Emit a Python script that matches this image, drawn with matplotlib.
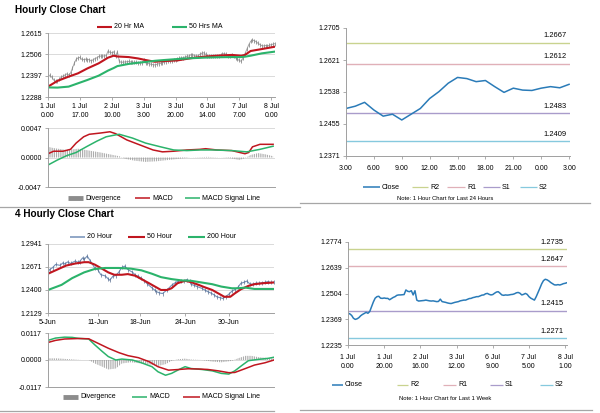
import matplotlib
matplotlib.use('Agg')
import matplotlib.pyplot as plt
from matplotlib.lines import Line2D
import matplotlib.transforms as mtransforms

plt.rcParams['font.family'] = ['Liberation Sans', 'DejaVu Sans']
plt.rcParams['hatch.linewidth'] = 0.6

# ---------------- DATA ----------------
# Hourly close, 1 Jul 0.00 -> 8 Jul ~1.00 (index = trading hour)
hourly_close = [
    1.2401, 1.2398, 1.2390, 1.2375, 1.2369, 1.2372, 1.2378, 1.2388, 1.2395, 1.2400,
    1.2406, 1.2401, 1.2410, 1.2435, 1.2460, 1.2480, 1.2488, 1.2490, 1.2480, 1.2479,
    1.2481, 1.2479, 1.2479, 1.2472, 1.2478, 1.2484, 1.2488, 1.2495, 1.2497, 1.2497,
    1.2498, 1.2499, 1.2523, 1.2516, 1.2514, 1.2519, 1.2497, 1.2519, 1.2470, 1.2465,
    1.2466, 1.2467, 1.2468, 1.2470, 1.2468, 1.2466, 1.2465, 1.2466, 1.2464, 1.2462,
    1.2463, 1.2475, 1.2462, 1.2460, 1.2458, 1.2455, 1.2453, 1.2452, 1.2455, 1.2458,
    1.2460, 1.2462, 1.2466, 1.2468, 1.2470, 1.2470, 1.2474, 1.2478, 1.2479, 1.2483,
    1.2485, 1.2488, 1.2488, 1.2492, 1.2496, 1.2497, 1.2503, 1.2505, 1.2500, 1.2497,
    1.2499, 1.2506, 1.2512, 1.2514, 1.2506, 1.2497, 1.2495, 1.2497, 1.2496, 1.2497,
    1.2499, 1.2500, 1.2503, 1.2508, 1.2510, 1.2506, 1.2497, 1.2500, 1.2505, 1.2500,
    1.2488, 1.2480, 1.2475, 1.2470, 1.2488, 1.2510, 1.2532, 1.2555, 1.2572, 1.2579,
    1.2576, 1.2570, 1.2562, 1.2556, 1.2550, 1.2549, 1.2551, 1.2549, 1.2552, 1.2556,
    1.2558, 1.2561]
hourly_idx = list(range(len(hourly_close)))

ma_idx = [0, 5, 11, 16, 21, 27, 32, 35, 37, 43, 48, 52, 57, 62, 69, 76, 83, 90, 98, 103, 105, 108, 114, 121]
ma20_hr = [1.2341, 1.2370, 1.2392, 1.2409, 1.2434, 1.2460, 1.2489, 1.2499, 1.2495, 1.2492, 1.2485, 1.2477,
           1.2468, 1.2472, 1.2475, 1.2486, 1.2494, 1.2499, 1.2503, 1.2499, 1.2503, 1.2523, 1.2533, 1.2545]
ma50_hr = [1.2337, 1.2336, 1.2341, 1.2358, 1.2375, 1.2397, 1.2423, 1.2436, 1.2446, 1.2457, 1.2463, 1.2467,
           1.2473, 1.2477, 1.2482, 1.2486, 1.2489, 1.2491, 1.2492, 1.2492, 1.2494, 1.2499, 1.2511, 1.2520]

hr_xticks = [0, 17, 34, 51, 68, 85, 102, 119]
hr_xlabels = ['1 Jul\n0.00', '1 Jul\n17.00', '2 Jul\n10.00', '3 Jul\n3.00', '3 Jul\n20.00',
              '6 Jul\n14.00', '7 Jul\n7.00', '8 Jul\n0.00']
hr_yticks = [1.2288, 1.2397, 1.2506, 1.2615]

macd_hr_idx = [0, 3, 8, 12, 15, 19, 22, 28, 33, 36, 42, 49, 56, 61, 67, 74, 81, 84, 90, 98, 105, 107, 109, 113, 120]
macd_hr = [0.0006, 0.0010, 0.0010, 0.0013, 0.0023, 0.0033, 0.0037, 0.0039, 0.0041, 0.0038, 0.0028, 0.0020,
           0.0012, 0.0009, 0.0010, 0.0012, 0.0013, 0.0014, 0.0012, 0.0011, 0.0006, 0.0008, 0.0017, 0.0021, 0.0021]
sig_hr_idx = [0, 5, 10, 15, 21, 26, 31, 36, 38, 45, 52, 60, 67, 74, 81, 88, 98, 106, 113, 120]
sig_hr = [-0.0012, -0.0004, 0.0003, 0.0008, 0.0018, 0.0026, 0.0033, 0.0036, 0.0037, 0.0031, 0.0023, 0.0017,
          0.0012, 0.0011, 0.0012, 0.0012, 0.0011, 0.0009, 0.0013, 0.0018]
div_hr_idx = [0, 3, 10, 16, 22, 28, 33, 38, 41, 46, 52, 58, 64, 70, 76, 85, 92, 97, 102, 105, 108, 112, 116, 120]
div_hr = [0.0017, 0.0015, 0.0012, 0.0014, 0.0011, 0.0008, 0.0005, 0.0002, -0.0002, -0.0005, -0.0007, -0.0006,
          -0.0004, -0.0002, 0.0000, 0.0001, 0.0000, -0.0001, -0.0004, -0.0001, 0.0004, 0.0007, 0.0005, 0.0002]
macd_hr_yticks = [-0.0047, 0.0, 0.0047]

# Last 24 hours
day_close = [1.2495, 1.2501, 1.2511, 1.2491, 1.2475, 1.2480, 1.2465, 1.2480, 1.2495, 1.2521, 1.2539, 1.2561,
             1.2576, 1.2573, 1.2565, 1.2568, 1.2552, 1.2537, 1.2548, 1.2543, 1.2542, 1.2548, 1.2552, 1.2549, 1.2558]
day_xlabels = ['3.00', '6.00', '9.00', '12.00', '15.00', '18.00', '21.00', '0.00', '3.00']
day_yticks = [1.2371, 1.2455, 1.2538, 1.2621, 1.2705]
day_levels = {'R2': 1.2667, 'R1': 1.2612, 'S1': 1.2483, 'S2': 1.2409}

# Last week
week_xticks = [0, 20, 40, 60, 80, 100, 120]
week_xlabels = ['1 Jul\n0.00', '1 Jul\n20.00', '2 Jul\n16.00', '3 Jul\n12.00', '6 Jul\n9.00', '7 Jul\n5.00', '8 Jul\n1.00']
week_yticks = [1.2235, 1.2369, 1.2504, 1.2639, 1.2774]
week_levels = {'R2': 1.2735, 'R1': 1.2647, 'S1': 1.2415, 'S2': 1.2271}

# 4-hourly
h4_idx = [0, 1, 3, 5, 8, 10, 11, 13, 15, 18, 20, 21, 23, 24, 26, 28, 31, 33, 35, 38, 40, 41, 43, 45, 47, 49,
          51, 53, 56, 58, 60, 62, 64, 66, 69, 71, 72, 74, 76, 79, 82, 84, 86, 88, 90, 92, 94, 95, 97, 99, 102,
          104, 106, 108, 110, 112, 114, 116, 118, 120, 122, 124, 126, 128, 130, 132, 134, 136, 138, 140, 142,
          144, 146, 148, 150]
h4_close = [1.2599, 1.2640, 1.2662, 1.2700, 1.2690, 1.2720, 1.2705, 1.2730, 1.2712, 1.2740, 1.2725, 1.2735,
            1.2778, 1.2760, 1.2799, 1.2745, 1.2660, 1.2640, 1.2580, 1.2565, 1.2530, 1.2515, 1.2560, 1.2570,
            1.2610, 1.2665, 1.2680, 1.2640, 1.2610, 1.2575, 1.2560, 1.2538, 1.2510, 1.2470, 1.2425, 1.2395,
            1.2380, 1.2365, 1.2358, 1.2400, 1.2455, 1.2480, 1.2502, 1.2510, 1.2500, 1.2522, 1.2505, 1.2465,
            1.2455, 1.2440, 1.2420, 1.2400, 1.2380, 1.2365, 1.2345, 1.2320, 1.2310, 1.2300, 1.2322, 1.2350,
            1.2385, 1.2405, 1.2430, 1.2478, 1.2490, 1.2505, 1.2470, 1.2468, 1.2480, 1.2478, 1.2485, 1.2490,
            1.2498, 1.2488, 1.2492]
h4_ma50_idx = [0, 5, 12, 18, 24, 27, 31, 35, 40, 44, 49, 53, 58, 62, 67, 71, 75, 79, 82, 86, 91, 95, 100, 104,
               109, 113, 117, 121, 124, 128, 133, 137, 143, 150]
h4_ma50 = [1.2591, 1.2631, 1.2687, 1.2711, 1.2727, 1.2727, 1.2699, 1.2659, 1.2607, 1.2579, 1.2579, 1.2587,
           1.2567, 1.2528, 1.2480, 1.2440, 1.2400, 1.2400, 1.2420, 1.2480, 1.2508, 1.2492, 1.2460, 1.2432,
           1.2400, 1.2360, 1.2320, 1.2320, 1.2360, 1.2408, 1.2448, 1.2468, 1.2480, 1.2488]
h4_ma200_idx = [0, 9, 16, 24, 31, 38, 47, 55, 62, 69, 75, 82, 89, 95, 102, 109, 115, 122, 126, 131, 137, 150]
h4_ma200 = [1.2400, 1.2460, 1.2539, 1.2607, 1.2647, 1.2659, 1.2659, 1.2651, 1.2631, 1.2591, 1.2551, 1.2528,
            1.2512, 1.2508, 1.2488, 1.2468, 1.2440, 1.2420, 1.2420, 1.2428, 1.2412, 1.2412]
h4_xticks = [0, 33, 61, 91, 120]
h4_xlabels = ['5-Jun', '11-Jun', '18-Jun', '24-Jun', '30-Jun']
h4_yticks = [1.2129, 1.2400, 1.2671, 1.2941]

macd_h4_idx = [0, 5, 11, 16, 20, 27, 31, 36, 40, 45, 49, 56, 62, 69, 73, 78, 82, 87, 91, 95, 102, 109, 115,
               120, 124, 129, 133, 140, 146, 150]
macd_h4 = [0.0085, 0.0095, 0.0099, 0.0098, 0.0094, 0.0091, 0.0066, 0.0037, 0.0015, 0.0000, 0.0004, 0.0000,
           -0.0012, -0.0029, -0.0051, -0.0066, -0.0058, -0.0041, -0.0029, -0.0037, -0.0041, -0.0047, -0.0058,
           -0.0061, -0.0047, -0.0022, -0.0003, 0.0003, 0.0007, 0.0012]
sig_h4_idx = [0, 5, 11, 20, 27, 33, 40, 47, 53, 60, 67, 73, 80, 87, 93, 100, 106, 113, 120, 124, 131, 137, 144, 150]
sig_h4 = [0.0076, 0.0085, 0.0091, 0.0093, 0.0092, 0.0073, 0.0051, 0.0032, 0.0019, 0.0010, -0.0007, -0.0029,
          -0.0044, -0.0041, -0.0038, -0.0039, -0.0041, -0.0047, -0.0055, -0.0054, -0.0037, -0.0022, -0.0012, 0.0000]
div_h4_idx = [0, 6, 13, 22, 27, 31, 36, 40, 45, 49, 55, 62, 66, 73, 78, 82, 86, 91, 95, 102, 109, 115, 122,
              126, 131, 135, 140, 144, 150]
div_h4 = [0.0007, 0.0007, 0.0004, 0.0000, 0.0000, -0.0015, -0.0029, -0.0041, -0.0037, -0.0015, -0.0010, -0.0015,
          -0.0018, -0.0026, -0.0018, -0.0004, 0.0003, 0.0006, 0.0002, 0.0000, -0.0007, -0.0010, -0.0004, 0.0007,
          0.0018, 0.0018, 0.0012, 0.0010, 0.0006]
macd_h4_yticks = [-0.0117, 0.0, 0.0117]

# ---------------- STYLE ----------------
RED = '#c0161f'
GREEN = '#2bb36b'
BLUE = '#2a7bb8'
PRICE_GREY = '#a8a8a8'
PRICE_BLUE = '#7390b8'
DIVG = '#8c8c8c'
SPINE = '#a0a0a0'
GRID = '#d4d4d4'
LEVEL_COLORS = {'R2': '#c9d38f', 'R1': '#e0b0b8', 'S1': '#a99ccb', 'S2': '#86c9de'}
FS = 5

W, H = 600, 413
fig = plt.figure(figsize=(6, 4.13), dpi=100)


def ax_at(l, t, r, b):
    return fig.add_axes([l / W, 1 - b / H, (r - l) / W, (b - t) / H])


def style(ax, grid=True):
    for s in ['top', 'right']:
        ax.spines[s].set_visible(False)
    for s in ['left', 'bottom']:
        ax.spines[s].set_color(SPINE)
        ax.spines[s].set_linewidth(0.7)
    ax.tick_params(axis='both', labelsize=FS, length=2.5, width=0.6, color=SPINE, pad=2)
    if grid:
        ax.yaxis.grid(True, color=GRID, lw=0.6)
        ax.set_axisbelow(True)


def set_yt(ax, ticks):
    ax.set_yticks(ticks)
    ax.set_yticklabels(['{:.4f}'.format(t) for t in ticks])
    ax.set_ylim(ticks[0], ticks[-1])


def legend_row(y, items):
    for x0, x1, label, color, lw in items:
        fig.add_artist(Line2D([x0 / W, x1 / W], [1 - y / H, 1 - y / H], transform=fig.transFigure,
                              color=color, lw=lw, solid_capstyle='butt'))
        fig.text((x1 + 2) / W, 1 - y / H, label, fontsize=FS, va='center', ha='left')


def level_lines(ax, levels):
    for name, v in levels.items():
        ax.axhline(v, color=LEVEL_COLORS[name], lw=1.0)
        ax.annotate('{:.4f}'.format(v), xy=(0.985, v),
                    xycoords=mtransforms.blended_transform_factory(ax.transAxes, ax.transData),
                    xytext=(0, 5), textcoords='offset points', ha='right', va='center', fontsize=5.4)


# Titles
fig.text(15 / W, 1 - 10 / H, 'Hourly Close Chart', fontsize=7.2, fontweight='bold', va='center')
fig.text(15 / W, 1 - 214 / H, '4 Hourly Close Chart', fontsize=7.2, fontweight='bold', va='center')

# Separators
for x0, x1, y in [(0, 300, 207), (300, 590, 203), (0, 274, 411), (300, 592, 410)]:
    fig.add_artist(Line2D([x0 / W, x1 / W], [1 - y / H, 1 - y / H], transform=fig.transFigure,
                          color='#a6a6a6', lw=0.9))

# ---- A: hourly close with MAs
axA = ax_at(48, 33, 275, 97)
style(axA)
axA.plot(hourly_idx, hourly_close, color=PRICE_GREY, lw=0.7, marker='|', ms=2.6, mew=0.6, mec='#8a8a8a')
axA.plot(ma_idx, ma20_hr, color=RED, lw=1.5)
axA.plot(ma_idx, ma50_hr, color=GREEN, lw=1.5)
axA.set_xlim(0, 121)
set_yt(axA, hr_yticks)
axA.set_xticks(hr_xticks)
axA.set_xticklabels(hr_xlabels, linespacing=1.35)
legend_row(27, [(97, 112, '20 Hr MA', RED, 1.5), (172, 187, '50 Hrs MA', GREEN, 1.5)])

# ---- B: hourly MACD
axB = ax_at(48, 128, 275, 187)
style(axB)
axB.fill_between(div_hr_idx, 0, div_hr, facecolor='none', edgecolor='#9c9c9c', hatch='|' * 9, linewidth=0)
axB.plot(macd_hr_idx, macd_hr, color=RED, lw=1.1)
axB.plot(sig_hr_idx, sig_hr, color=GREEN, lw=1.1)
axB.set_xlim(0, 121)
set_yt(axB, macd_hr_yticks)
axB.set_xticks([])
legend_row(198, [(68, 83, 'Divergence', DIVG, 3.5), (135, 150, 'MACD', RED, 1.1),
                 (185, 200, 'MACD Signal Line', GREEN, 1.1)])

# ---- C: last 24 hours
axC = ax_at(346, 28, 570, 156)
style(axC, grid=False)
level_lines(axC, day_levels)
axC.plot(range(len(day_close)), day_close, color=BLUE, lw=1.1)
axC.set_xlim(0, 24.1)
set_yt(axC, day_yticks)
axC.set_xticks(range(0, 25, 3))
axC.set_xticklabels(day_xlabels)
axC.tick_params(axis='x', pad=4)
legend_row(187, [(363, 380, 'Close', BLUE, 1.1), (412, 428, 'R2', LEVEL_COLORS['R2'], 0.9),
                 (447, 465, 'R1', LEVEL_COLORS['R1'], 0.9), (483, 500, 'S1', LEVEL_COLORS['S1'], 0.9),
                 (520, 537, 'S2', LEVEL_COLORS['S2'], 0.9)])
fig.text(445 / W, 1 - 198 / H, 'Note: 1 Hour Chart for Last 24 Hours', fontsize=4.2, ha='center', va='center')

# ---- D: 4 hourly close
axD = ax_at(48, 244, 274, 313)
style(axD)
axD.plot(h4_idx, h4_close, color=PRICE_BLUE, lw=0.8, marker='|', ms=2.4, mew=0.5, mec='#5a6f90')
axD.plot(h4_ma50_idx, h4_ma50, color=RED, lw=1.5)
axD.plot(h4_ma200_idx, h4_ma200, color=GREEN, lw=1.5)
axD.set_xlim(0, 150)
set_yt(axD, h4_yticks)
axD.set_xticks(h4_xticks)
axD.set_xticklabels(h4_xlabels)
legend_row(237, [(70, 85, '20 Hour', PRICE_BLUE, 1.1), (128, 145, '50 Hour', RED, 1.5),
                 (188, 205, '200 Hour', GREEN, 1.5)])

# ---- E: 4 hourly MACD
axE = ax_at(48, 333, 274, 387)
style(axE)
axE.fill_between(div_h4_idx, 0, div_h4, facecolor='none', edgecolor='#9c9c9c', hatch='|' * 9, linewidth=0)
axE.plot(macd_h4_idx, macd_h4, color=GREEN, lw=1.1)
axE.plot(sig_h4_idx, sig_h4, color=RED, lw=1.1)
axE.set_xlim(0, 150)
set_yt(axE, macd_h4_yticks)
axE.set_xticks([])
legend_row(397, [(63, 78, 'Divergence', DIVG, 3.5), (132, 147, 'MACD', GREEN, 1.1),
                 (183, 200, 'MACD Signal Line', RED, 1.1)])

# ---- F: last week hourly
axF = ax_at(348, 242, 567, 345)
style(axF, grid=False)
level_lines(axF, week_levels)
axF.plot(hourly_idx, hourly_close, color=BLUE, lw=1.1)
axF.set_xlim(0, 121)
set_yt(axF, week_yticks)
axF.set_xticks(week_xticks)
axF.set_xticklabels(week_xlabels, linespacing=1.35)
axF.tick_params(axis='x', pad=4)
legend_row(385, [(332, 343, 'Close', BLUE, 1.1), (397, 408, 'R2', LEVEL_COLORS['R2'], 0.9),
                 (443, 456, 'R1', LEVEL_COLORS['R1'], 0.9), (490, 503, 'S1', LEVEL_COLORS['S1'], 0.9),
                 (540, 553, 'S2', LEVEL_COLORS['S2'], 0.9)])
fig.text(445 / W, 1 - 398 / H, 'Note: 1 Hour Chart for Last 1 Week', fontsize=4.2, ha='center', va='center')

fig.savefig('out.png', dpi=100)
